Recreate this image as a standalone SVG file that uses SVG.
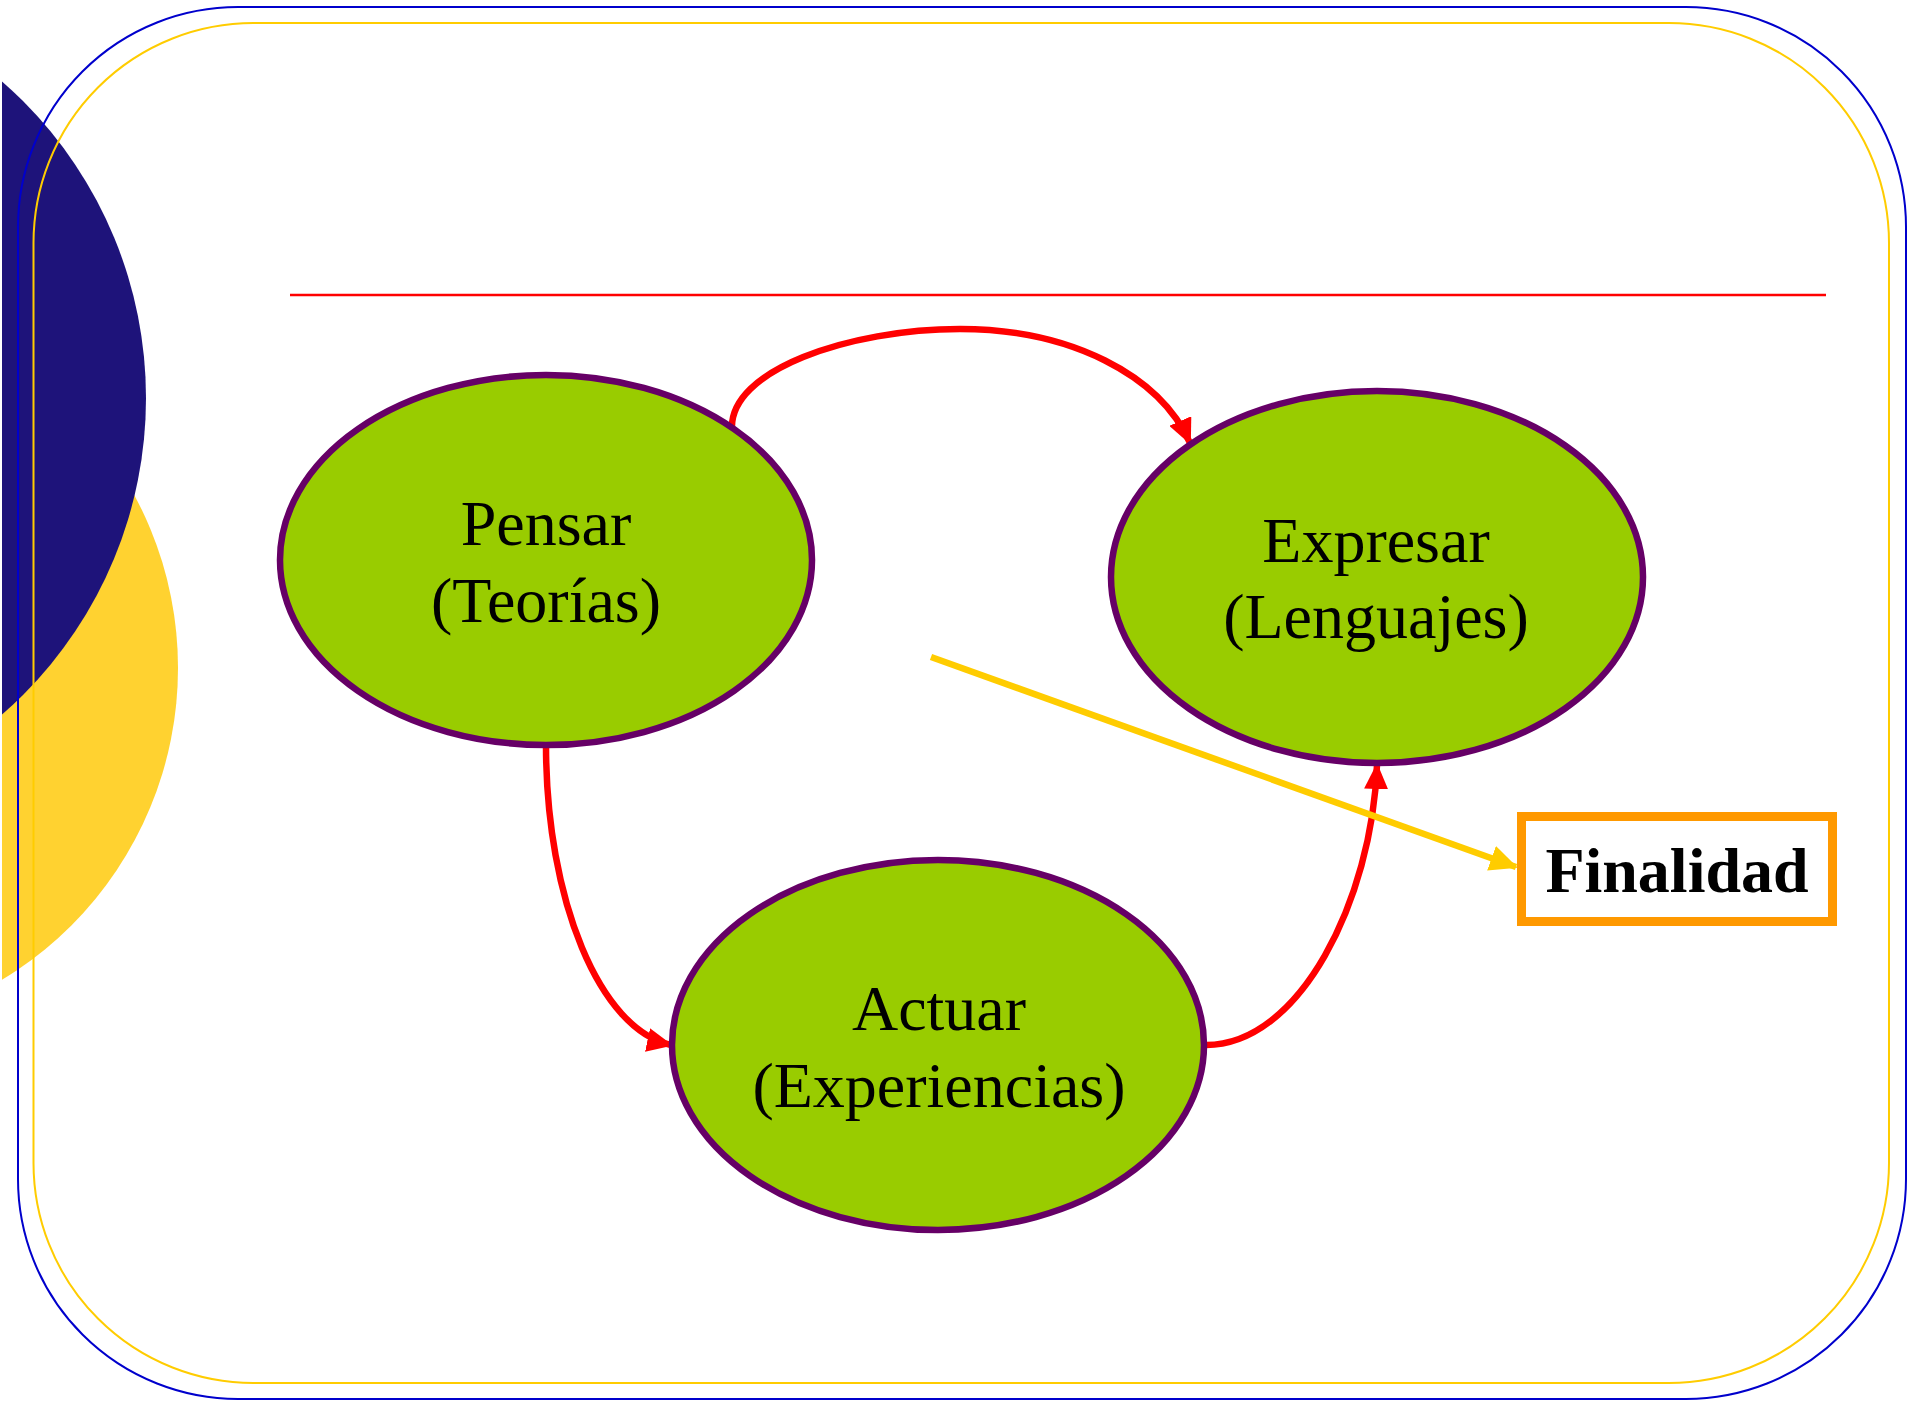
<svg xmlns="http://www.w3.org/2000/svg" width="1923" height="1405" viewBox="0 0 1923 1405">
  <style>
    .node ellipse { fill: #99CC00; stroke: #660066; stroke-width: 6.5; }
    .label { font-family: "Liberation Serif", "Times New Roman", serif; font-size: 64px; fill: #000; text-anchor: middle; }
    .flow { fill: none; stroke: #FF0000; stroke-width: 6.5; }
    .pointer { fill: none; stroke: #FFCC00; stroke-width: 6.5; }
  </style>
  <defs>
    <marker id="head-red" viewBox="0 0 26 24" refX="24" refY="12" markerWidth="26" markerHeight="24" markerUnits="userSpaceOnUse" orient="auto">
      <path d="M0,0 L26,12 L0,24 Z" fill="#FF0000"/>
    </marker>
    <marker id="head-yellow" viewBox="0 0 28 26" refX="26" refY="13" markerWidth="28" markerHeight="26" markerUnits="userSpaceOnUse" orient="auto">
      <path d="M0,0 L28,13 L0,26 Z" fill="#FFCC00"/>
    </marker>
    <clipPath id="page-left">
      <rect x="2" y="0" width="1921" height="1405"/>
    </clipPath>
  </defs>

  <rect width="1923" height="1405" fill="#FFFFFF"/>

  <!-- decorative discs on the left edge -->
  <g id="decor" clip-path="url(#page-left)">
    <circle cx="-186" cy="668" r="364" fill="#FFD230"/>
    <circle cx="-274" cy="398" r="420" fill="#1E137A"/>
  </g>

  <!-- slide frame -->
  <g id="frame" fill="none">
    <rect x="18" y="7" width="1888" height="1392" rx="220" ry="220" stroke="#0000CC" stroke-width="2"/>
    <rect x="33.5" y="23" width="1855.5" height="1360" rx="220" ry="220" stroke="#FFCC00" stroke-width="2"/>
    <line x1="290" y1="295" x2="1826" y2="295" stroke="#FF0000" stroke-width="2.5"/>
  </g>

  <!-- connectors -->
  <g id="connectors">
    <path class="flow" d="M732,430 C728,370 850,329 960,329 C1070,329 1160,375 1190,443" marker-end="url(#head-red)"/>
    <path class="flow" d="M546,745 C546,900 600,1030 671,1045" marker-end="url(#head-red)"/>
    <path class="flow" d="M1206,1045 C1300,1045 1372,900 1377,765" marker-end="url(#head-red)"/>
    <path class="pointer" d="M931,657 L1516,867" marker-end="url(#head-yellow)"/>
  </g>

  <g id="pensar" class="node">
    <ellipse cx="546" cy="560" rx="266" ry="185"/>
    <text class="label" x="546" y="545">Pensar</text>
    <text class="label" x="546" y="622">(Teorías)</text>
  </g>

  <g id="expresar" class="node">
    <ellipse cx="1377" cy="577" rx="266" ry="186"/>
    <text class="label" x="1376" y="562">Expresar</text>
    <text class="label" x="1376" y="638">(Lenguajes)</text>
  </g>

  <g id="actuar" class="node">
    <ellipse cx="938" cy="1045" rx="266" ry="185"/>
    <text class="label" x="939" y="1030">Actuar</text>
    <text class="label" x="939" y="1107">(Experiencias)</text>
  </g>

  <g id="finalidad">
    <rect x="1521.5" y="816.5" width="311" height="105" fill="#FFFFFF" stroke="#FF9900" stroke-width="9"/>
    <text class="label" x="1677" y="892" font-weight="bold">Finalidad</text>
  </g>
</svg>
